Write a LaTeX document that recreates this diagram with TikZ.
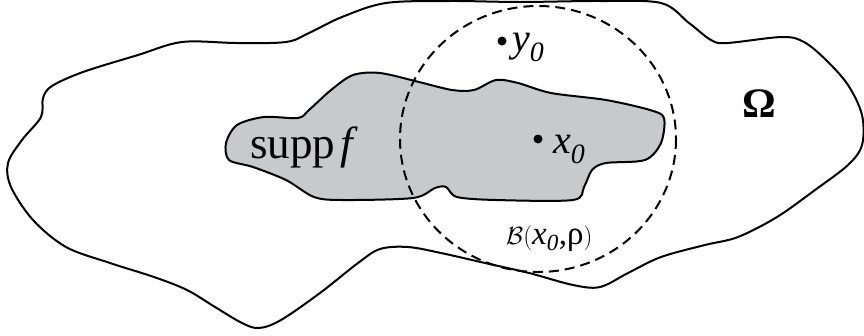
\documentclass[tikz,border=0pt]{standalone}
\usepackage{fontspec}
\setmainfont{Liberation Serif}
\begin{document}
\begin{tikzpicture}[x=1pt,y=-1pt,
  outline/.style={line width=2pt,line join=round},
  ball/.style={line width=2pt,dash pattern=on 10pt off 6pt},
  dot/.style={circle,fill=black,inner sep=0pt,minimum size=9pt},
  lbl/.style={inner sep=0pt,anchor=base west,font=\fontsize{40}{44}\selectfont}]
\useasboundingbox (0,0) rectangle (864,335);
% Omega
\draw[outline] plot[smooth cycle,tension=0.55] coordinates {
 (386,3) (450,1) (520,2) (600,1) (661,3) (689,23) (711,40) (727,43)
 (782,37) (804,42) (826,60) (848,85) (862,115) (862,145) (848,165)
 (815,190) (777,217) (738,237) (705,245) (661,257) (628,273) (600,287)
 (573,285) (529,273) (485,263) (441,253) (408,247) (380,249) (358,263)
 (320,293) (281,320) (259,328) (242,323) (215,307) (187,290) (154,277)
 (110,263) (66,247) (33,220) (11,187) (8,163) (22,140) (41,117)
 (43,98) (52,86) (83,72) (138,55) (182,42) (237,43) (286,42) (309,33) (342,17)};
% supp f
\draw[outline,fill={rgb,255:red,200;green,201;blue,203}] plot[smooth cycle,tension=0.5] coordinates {
 (298,118) (264,117) (237,125) (226,143) (229,160) (253,167) (286,180)
 (314,197) (342,200) (413,198) (435,188) (446,187) (457,197) (496,200)
 (573,200) (584,187) (592,170) (606,163) (645,160) (661,143) (664,118)
 (650,110) (606,100) (551,93) (518,83) (496,80) (474,90) (452,90)
 (419,82) (380,73) (353,75) (331,90) (309,110)};
% ball
\node[dot] (x0) at (538,139) {};
\draw[ball] (x0) ellipse [x radius=138, y radius=133];
\node[dot] (y0) at (502,41) {};
\node[lbl] (ly0) at (512,51) {\textit{y}\textsubscript{\textit{0}}};
\node[lbl] (lx0) at (553,153) {\textit{x}\textsubscript{\textit{0}}};
\node[lbl,font=\fontsize{42}{46}\selectfont] (lom) at (742,117) {\textbf{Ω}};
\node[lbl,font=\fontsize{45}{50}\selectfont] (lsupp) at (250,158) {supp\hspace{5pt}\textit{f}};
\node[lbl,font=\fontsize{33}{36}\selectfont] (lball) at (506,244) {$\mathcal{B}($\textit{x}\textsubscript{\textit{0}},ρ$)$};
\end{tikzpicture}
\end{document}
